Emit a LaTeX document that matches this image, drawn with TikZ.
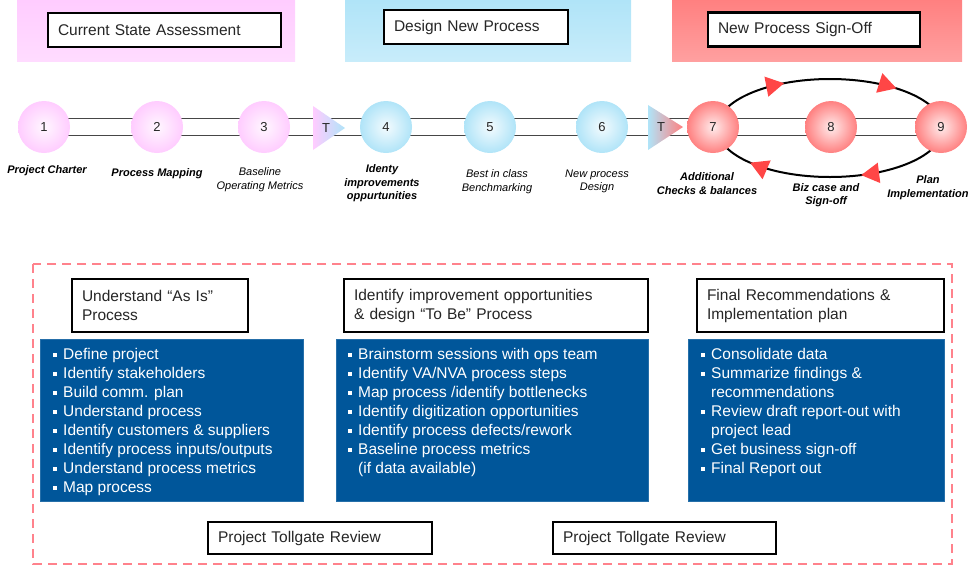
\documentclass[tikz,border=0pt]{standalone}
\usepackage{fontspec}
\setmainfont{Liberation Sans}
\usepackage{tikz}
\usetikzlibrary{arrows.meta, backgrounds, calc, positioning}

\definecolor{phasepink}{RGB}{255,204,255}
\definecolor{phaseblue}{RGB}{176,228,248}
\definecolor{phasered}{RGB}{255,128,128}
\definecolor{listblue}{RGB}{0,86,154}
\definecolor{railgray}{RGB}{70,70,70}
\definecolor{tipred}{RGB}{255,70,70}
\definecolor{framepink}{RGB}{255,130,140}

\newcommand{\blt}{\makebox[10pt][l]{\rule[2.5pt]{4pt}{4pt}}}
\newcommand{\cnt}{\hspace*{10pt}}

\begin{document}
\begin{tikzpicture}[
	x=1pt, y=-1pt,
	stage node/.style = {circle, minimum size=52pt, inner sep=0pt, text=black!85, font=\fontsize{13}{13}\selectfont, inner color=#1!15!white, outer color=#1},
	stage label/.style = {align=center, inner sep=0pt, font=\fontsize{11}{13.5}\selectfont\bfseries\itshape},
	plain label/.style = {align=center, inner sep=0pt, font=\fontsize{11}{13.5}\selectfont\itshape},
	gate label/.style = {inner sep=0pt, text=black!85, font=\fontsize{13}{13}\selectfont},
	rail/.style = {draw=railgray, line width=1pt, double=white, double distance=16pt},
	loop line/.style = {draw=black, line width=2pt},
	title box/.style = {draw=black, line width=2.5pt, fill=white, align=left, inner xsep=10pt, inner ysep=0pt, text=black!85, font=\fontsize{15.5}{19}\selectfont},
	list box/.style = {fill=listblue, draw=listblue!85!white, line width=1pt, anchor=north west, inner sep=0pt},
	list text/.style = {anchor=north west, align=left, inner sep=0pt, text=white, font=\fontsize{15.5}{19}\selectfont},
	tollgate frame/.style = {draw=framepink, line width=1.5pt, dash pattern=on 9pt off 6pt}
]

\useasboundingbox (0,0) rectangle (976,566);

% phase bands
\shade[top color=phasepink, bottom color=phasepink!70!white] (17,0) rectangle (295,61);
\shade[top color=phaseblue, bottom color=phaseblue!70!white] (345,0) rectangle (631,61);
\shade[top color=phasered, bottom color=phasered!75!white] (672,0) rectangle (962,61);

\node[title box, text width=213pt, minimum height=34pt] (p1) at (164.5,30) {Current State Assessment};
\node[title box, text width=164pt, minimum height=34pt] (p2) at (476,27) {Design New Process};
\node[title box, text width=192pt, minimum height=34pt] (p3) at (814,29.5) {New Process Sign-Off};

% stages
\foreach \i/\x/\c in {1/44/phasepink, 2/157/phasepink, 3/264/phasepink, 4/386/phaseblue, 5/490/phaseblue, 6/602/phaseblue, 7/713/phasered, 8/831/phasered, 9/941/phasered}
	\node[stage node=\c] (n\i) at (\x,127) {\i};

\coordinate (signoff) at (830,128);

\begin{scope}[on background layer]
	\draw[rail] (n1.center) -- (n9.center);
	\draw[loop line] (signoff) ellipse [x radius=113pt, y radius=49pt];
	\shade[left color=phasepink, right color=phaseblue] (313,106) -- (345,128) -- (313,150) -- cycle;
	\shade[left color=phaseblue, right color=phasered] (648,105) -- (683,127) -- (648,150) -- cycle;
\end{scope}

\node[gate label] (g1) at (326,128) {T};
\node[gate label] (g2) at (661,127) {T};

\foreach \a in {114, 54, 225, 286}
	\draw[loop line, -{Triangle[length=18pt, width=20pt, color=tipred]}] ($(signoff)+(\a+10:113pt and 49pt)$) arc[start angle=\a+10, end angle=\a, x radius=113pt, y radius=49pt];

\node[stage label] (l1) at (47,171) {Project Charter};
\node[stage label] (l2) at (157,174) {Process Mapping};
\node[plain label] (l3) at (260,179.5) {Baseline\\Operating Metrics};
\node[stage label] (l4) at (382,183.5) {Identy\\improvements\\oppurtunities};
\node[plain label] (l5) at (497,181.5) {Best in class\\Benchmarking};
\node[plain label] (l6) at (597,181.5) {New process\\Design};
\node[stage label] (l7) at (707,183.5) {Additional\\Checks \& balances};
\node[stage label] (l8) at (826,195) {Biz case and\\Sign-off};
\node[stage label] (l9) at (928,187.5) {Plan\\Implementation};

% tollgate section
\draw[tollgate frame] (33,264) rectangle (952,564);

\node[title box, text width=156pt, minimum height=53pt] (h1) at (160,305.5) {Understand “As Is”\\Process};
\node[title box, text width=284pt, minimum height=53pt] (h2) at (496,305.5) {Identify improvement opportunities\\\& design “To Be” Process};
\node[title box, text width=227pt, minimum height=53pt] (h3) at (820.5,305.5) {Final Recommendations \&\\Implementation plan};

\node[list box, minimum width=263pt, minimum height=162pt] (b1) at (40,339) {};
\node[list box, minimum width=312pt, minimum height=162pt] (b2) at (336,339) {};
\node[list box, minimum width=256pt, minimum height=162pt] (b3) at (688,339) {};

\node[list text] (t1) at ($(b1.north west)+(13,9)$) {\blt Define project\\\blt Identify stakeholders\\\blt Build comm. plan\\\blt Understand process\\\blt Identify customers \& suppliers\\\blt Identify process inputs/outputs\\\blt Understand process metrics\\\blt Map process};
\node[list text] (t2) at ($(b2.north west)+(12,9)$) {\blt Brainstorm sessions with ops team\\\blt Identify VA/NVA process steps\\\blt Map process /identify bottlenecks\\\blt Identify digitization opportunities\\\blt Identify process defects/rework\\\blt Baseline process metrics\\\cnt (if data available)};
\node[list text] (t3) at ($(b3.north west)+(13,9)$) {\blt Consolidate data\\\blt Summarize findings \&\\\cnt recommendations\\\blt Review draft report-out with\\\cnt project lead\\\blt Get business sign-off\\\blt Final Report out};

\node[title box, text width=204pt, minimum height=32pt] (r1) at (320,538) {Project Tollgate Review};
\node[title box, text width=203pt, minimum height=32pt] (r2) at (664.5,538) {Project Tollgate Review};

\end{tikzpicture}
\end{document}
